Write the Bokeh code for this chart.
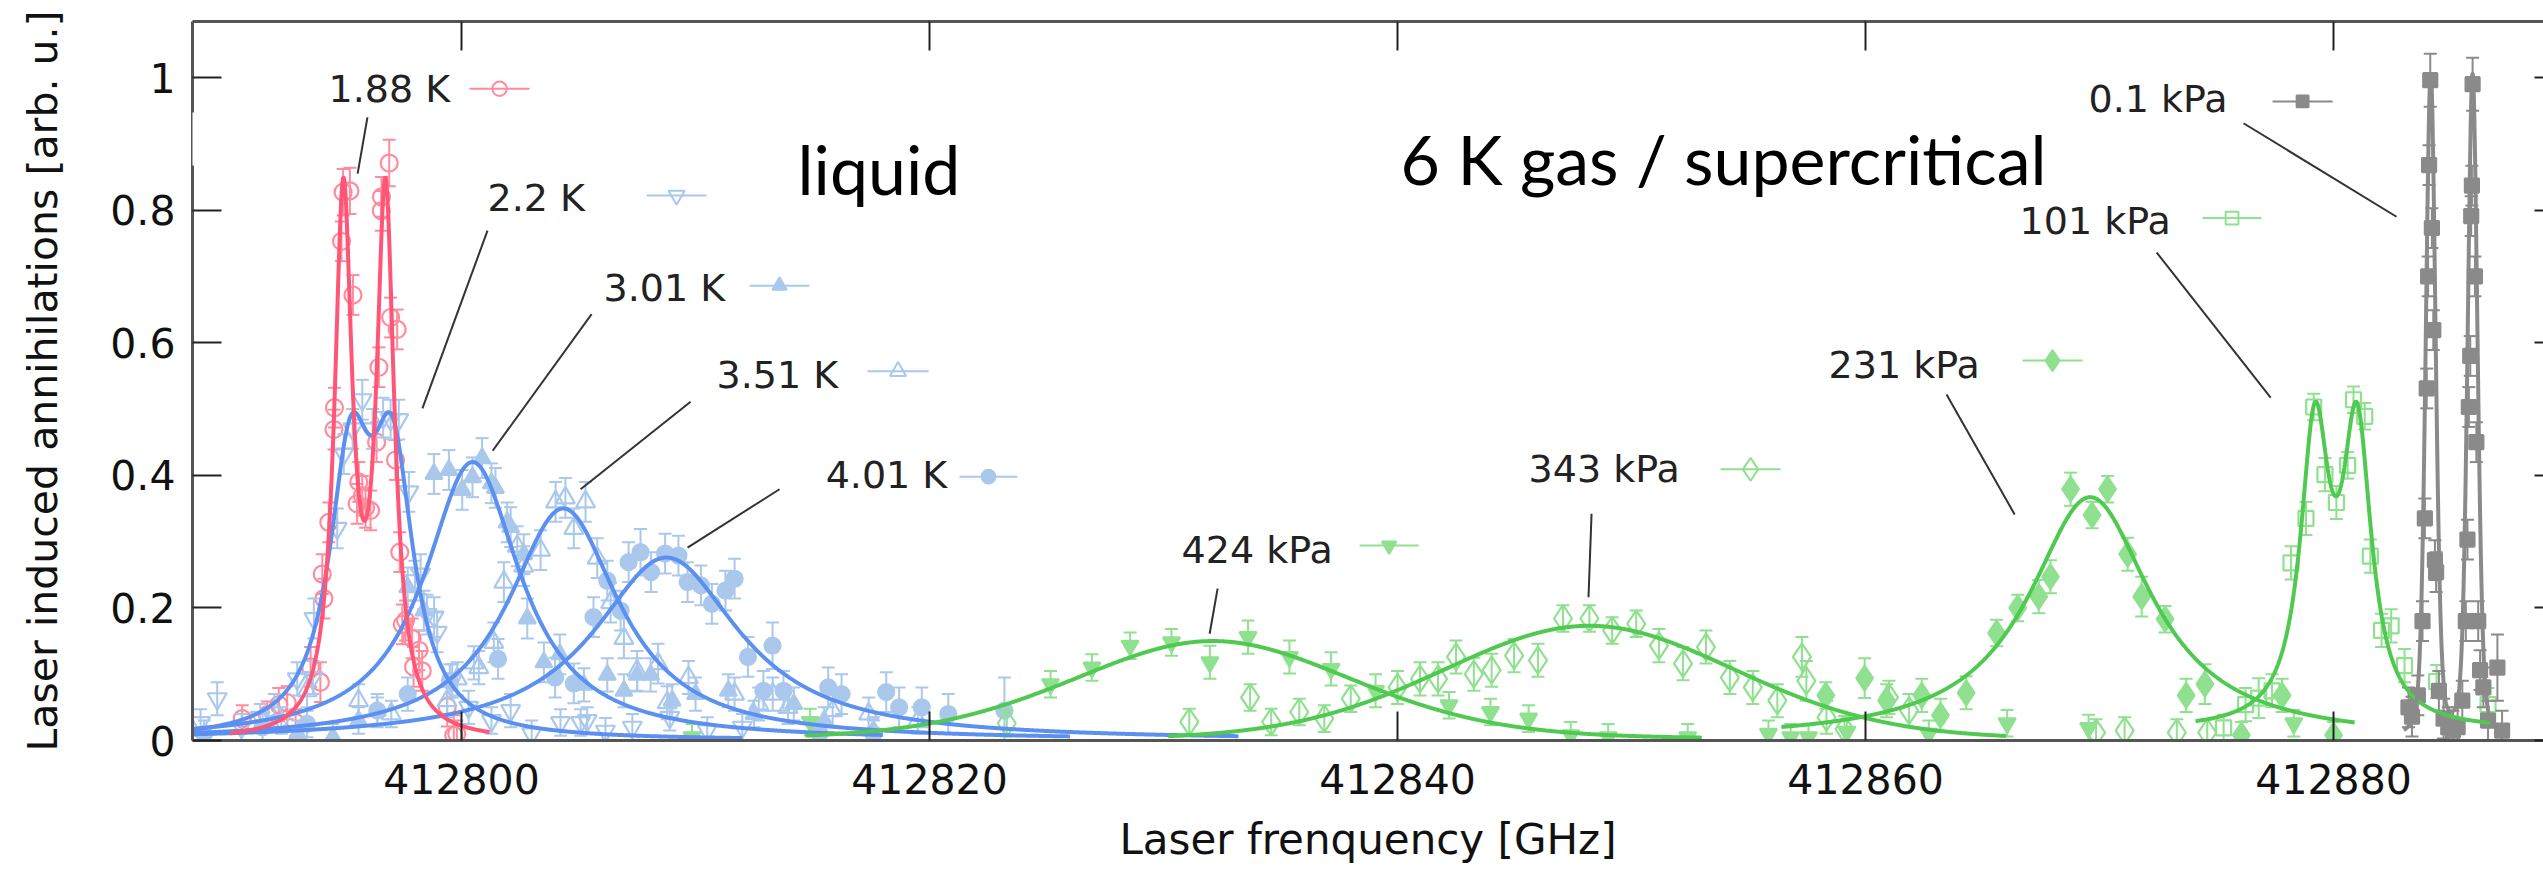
import numpy as np
from bokeh.plotting import figure
from bokeh.models import LinearAxis, Range1d, FixedTicker, BoxAnnotation, Label
from bokeh.embed import file_html
from bokeh.resources import INLINE

# ---------------- data ----------------
X_TICKS = [412800, 412820, 412840, 412860, 412880]
Y_TICKS = [0, 0.2, 0.4, 0.6, 0.8, 1]
X_TICK_LABELS = ["412800", "412820", "412840", "412860", "412880"]
Y_TICK_LABELS = ["0", "0.2", "0.4", "0.6", "0.8", "1"]
X_LABEL = "Laser frenquency [GHz]"
Y_LABEL = "Laser induced annihilations [arb. u.]"

SERIES_NAMES = ["1.88 K", "2.2 K", "3.01 K", "3.51 K", "4.01 K",
                "424 kPa", "343 kPa", "231 kPa", "101 kPa", "0.1 kPa"]

# measured points: (frequency GHz, signal, error)
PTS_188K = [
    (412790.63, .033, .02), (412791.70, .039, .02), (412792.19, .054, .025), (412792.55, .057, .025),
    (412792.91, .027, .02), (412793.55, .111, .03), (412793.97, .088, .03), (412794.12, .214, .03),
    (412794.05, .251, .03), (412794.33, .329, .03), (412794.55, .469, .03), (412794.57, .502, .03),
    (412794.87, .753, .03), (412794.94, .827, .035), (412795.23, .829, .035), (412795.36, .672, .03),
    (412795.61, .390, .03), (412795.54, .357, .03), (412795.76, .369, .03), (412795.90, .351, .03),
    (412796.11, .347, .03), (412796.37, .450, .03), (412796.47, .563, .03), (412796.57, .799, .03),
    (412796.58, .820, .03), (412796.91, .871, .035), (412796.97, .638, .03), (412797.25, .620, .03),
    (412797.18, .423, .03), (412797.36, .284, .03), (412797.47, .175, .03), (412797.61, .181, .03),
    (412797.89, .154, .03), (412798.18, .136, .03), (412797.95, .111, .03), (412798.32, .105, .03),
    (412799.39, .051, .03), (412799.67, .008, .03), (412799.80, .010, .02),
]
PTS_22K = [
    (412788.85, .027, .02), (412789.56, .063, .025), (412790.60, .020, .02), (412791.40, .035, .02),
    (412792.30, .030, .02), (412792.98, .093, .025), (412793.65, .095, .025), (412793.69, .184, .03),
    (412794.69, .320, .03), (412794.97, .432, .03), (412795.35, .470, .03), (412795.76, .514, .03),
    (412796.20, .470, .03), (412796.65, .487, .03), (412796.97, .484, .03), (412797.32, .484, .03),
    (412797.75, .375, .03), (412798.01, .241, .03), (412798.25, .251, .03), (412798.53, .190, .03),
    (412798.83, .186, .03), (412798.96, .163, .03), (412799.60, .090, .025), (412800.30, .050, .025),
    (412801.28, .030, .02), (412802.10, .045, .025), (412803.00, .010, .02), (412804.23, .027, .02),
    (412805.09, .027, .02), (412805.37, .030, .02), (412806.15, .014, .02), (412807.30, .020, .02),
    (412808.90, .035, .02), (412810.50, .015, .02), (412812.00, .020, .02),
]
PTS_301K = [
    (412793.00, .010, .02), (412794.50, .005, .02), (412795.60, .030, .02), (412796.40, .045, .02),
    (412797.70, .231, .03), (412798.39, .196, .03), (412798.82, .402, .03), (412799.46, .408, .03),
    (412800.03, .378, .03), (412800.47, .397, .03), (412800.88, .426, .03), (412801.28, .388, .03),
    (412801.45, .381, .03), (412801.95, .329, .03), (412802.10, .322, .03), (412802.66, .281, .03),
    (412802.81, .184, .03), (412803.52, .118, .03), (412804.20, .130, .03), (412805.23, .084, .025),
    (412806.23, .099, .025), (412806.94, .075, .025), (412807.51, .099, .025), (412808.08, .099, .025),
    (412809.00, .060, .025), (412810.00, .070, .025), (412811.40, .075, .025), (412812.50, .040, .02),
    (412814.20, .055, .025), (412815.50, .030, .02), (412817.60, .015, .02),
]
PTS_351K = [
    (412792.00, .045, .025), (412793.40, .075, .025), (412795.60, .060, .025), (412797.00, .040, .02),
    (412799.38, .060, .025), (412799.82, .093, .025), (412800.53, .117, .025), (412800.74, .110, .025),
    (412801.38, .148, .03), (412801.81, .239, .03), (412802.38, .293, .03), (412802.66, .263, .03),
    (412803.38, .287, .03), (412804.02, .360, .03), (412804.44, .366, .03), (412804.80, .320, .03),
    (412805.30, .360, .03), (412805.80, .275, .03), (412806.37, .208, .03), (412806.94, .154, .03),
    (412807.50, .105, .03), (412808.40, .116, .03), (412808.79, .057, .025), (412809.70, .095, .025),
    (412811.67, .070, .025), (412812.70, .055, .025), (412813.30, .070, .025), (412813.95, .050, .025),
    (412815.86, .045, .025), (412817.40, .040, .025), (412819.50, .030, .02),
]
PTS_401K = [
    (412789.00, .010, .02), (412791.50, .020, .02), (412793.40, .025, .02), (412796.40, .045, .025),
    (412797.70, .070, .025), (412799.50, .090, .025), (412801.56, .123, .03), (412804.00, .095, .03),
    (412804.80, .086, .03), (412805.64, .186, .03), (412806.23, .241, .03), (412806.80, .196, .03),
    (412807.14, .269, .03), (412807.65, .284, .035), (412808.10, .254, .03), (412808.70, .282, .03),
    (412809.27, .279, .03), (412809.66, .239, .03), (412810.23, .234, .03), (412810.70, .206, .03),
    (412811.28, .226, .03), (412811.67, .244, .03), (412812.24, .126, .03), (412812.90, .075, .03),
    (412813.29, .143, .035), (412813.76, .075, .03), (412815.30, .010, .02), (412815.67, .080, .03),
    (412816.24, .070, .03), (412817.60, .010, .02), (412818.15, .073, .03), (412818.70, .050, .03),
    (412819.67, .050, .03), (412820.80, .040, .03), (412823.20, .045, .05),
]
PTS_424KPA = [
    (412809.85, .005, .02), (412814.90, .028, .02), (412825.17, .085, .02), (412826.94, .110, .02),
    (412828.57, .143, .02), (412830.34, .148, .02), (412831.98, .118, .025), (412833.61, .156, .025),
    (412835.38, .126, .025), (412837.16, .108, .025), (412839.06, .075, .025), (412842.20, .053, .02),
    (412843.97, .043, .02), (412845.60, .033, .02), (412847.40, .008, .02), (412849.00, .005, .02),
    (412852.40, .005, .02), (412855.85, .010, .02), (412856.80, .005, .02), (412857.56, .005, .02),
    (412859.20, .013, .02), (412862.70, .010, .02), (412866.05, .026, .02), (412869.53, .019, .02),
    (412878.30, .026, .02),
]
PTS_343KPA = [
    (412823.30, .026, .02), (412831.10, .028, .02), (412833.70, .065, .02), (412834.60, .028, .02),
    (412835.80, .043, .02), (412836.87, .033, .02), (412838.00, .063, .02), (412840.00, .080, .025),
    (412840.96, .093, .025), (412841.73, .093, .025), (412842.50, .126, .025), (412843.26, .100, .025),
    (412844.02, .106, .025), (412844.98, .128, .025), (412846.00, .121, .025), (412847.07, .184, .02),
    (412848.20, .184, .02), (412849.17, .166, .02), (412850.20, .176, .02), (412851.17, .143, .025),
    (412852.20, .116, .025), (412853.18, .141, .025), (412854.20, .095, .025), (412855.18, .080, .025),
    (412856.23, .060, .025), (412857.28, .126, .03), (412857.47, .090, .03), (412858.33, .035, .025),
    (412859.10, .017, .02), (412861.00, .065, .025), (412861.86, .045, .025), (412869.85, .012, .02),
    (412871.07, .015, .02), (412873.30, .012, .02), (412874.60, .012, .02),
]
PTS_231KPA = [
    (412858.30, .068, .02), (412859.96, .094, .03), (412860.90, .060, .025), (412862.40, .068, .025),
    (412863.20, .038, .025), (412864.30, .072, .025), (412865.60, .162, .02), (412866.50, .200, .02),
    (412867.40, .217, .025), (412867.90, .247, .025), (412868.76, .379, .025), (412869.68, .340, .02),
    (412870.34, .379, .02), (412871.20, .281, .025), (412871.80, .217, .03), (412872.80, .183, .02),
    (412873.70, .068, .025), (412874.50, .085, .03), (412876.06, .008, .02), (412877.80, .068, .025),
    (412880.00, .008, .02),
]
PTS_101KPA = [
    (412875.30, .019, .02), (412876.24, .054, .025), (412876.80, .064, .03), (412877.37, .075, .025),
    (412878.18, .268, .025), (412878.82, .335, .025), (412879.15, .503, .02), (412879.63, .401, .025),
    (412880.12, .359, .025), (412880.60, .415, .02), (412880.85, .514, .02), (412881.33, .489, .02),
    (412881.57, .278, .025), (412882.05, .166, .025), (412882.46, .173, .025), (412883.03, .113, .025),
    (412884.40, .089, .025), (412886.60, .054, .025),
]
PTS_01KPA = [
    (412883.20, .050, .03), (412883.35, .036, .03), (412883.60, .068, .03), (412883.80, .180, .03),
    (412883.90, .335, .03), (412883.98, .531, .03), (412884.04, .700, .03), (412884.08, .868, .03),
    (412884.13, .996, .04), (412884.20, .773, .03), (412884.26, .619, .03), (412884.33, .272, .03),
    (412884.38, .254, .03), (412884.50, .075, .03), (412884.70, .033, .03), (412884.90, .020, .03),
    (412885.10, .015, .03), (412885.30, .020, .03), (412885.50, .060, .03), (412885.65, .180, .03),
    (412885.72, .303, .03), (412885.78, .503, .03), (412885.84, .580, .03), (412885.88, .791, .03),
    (412885.91, .837, .03), (412885.94, .990, .04), (412886.04, .700, .03), (412886.10, .450, .03),
    (412886.18, .180, .03), (412886.26, .106, .03), (412886.40, .080, .03), (412886.60, .030, .03),
    (412887.00, .110, .05), (412887.20, .015, .03),
]

# fitted profiles:
# centres [GHz], amplitudes, half width [GHz], Lorentz fraction, baseline, drawn span [GHz]
FIT_CENTERS = [[412794.95, 412796.75], [412795.25, 412797.05], [412800.47], [412804.35], [412808.76],
               [412832.1], [412848.2], [412869.6], [412879.2, 412881.0], [412884.15, 412885.94]]
FIT_AMPS = [[0.80, 0.80], [0.384, 0.384], [0.42], [0.35], [0.276],
            [0.150], [0.173], [0.367], [0.431, 0.431], [1.0, 1.0]]
FIT_HWHM = [0.46, 1.1, 2.5, 2.9, 3.8, 7.2, 7.5, 3.2, 0.75, 0.25]
FIT_LORENTZ_FRACTION = [1.0, 1.0, 1.0, 1.0, 1.0, 0.25, 0.15, 1.0, 1.0, 0.3]
FIT_BASELINE = [0, 0, 0, 0, 0, 0, 0, 0, 0.015, 0]
FIT_SPAN = [(412790.1, 412801.2), (412788.5, 412812.0), (412788.5, 412818.0), (412788.5, 412826.0),
            (412788.5, 412833.2), (412814.7, 412853.0), (412830.2, 412866.0), (412856.4, 412880.9),
            (412874.1, 412886.8), (412883.0, 412887.2)]

ALL_PTS = [PTS_188K, PTS_22K, PTS_301K, PTS_351K, PTS_401K,
           PTS_424KPA, PTS_343KPA, PTS_231KPA, PTS_101KPA, PTS_01KPA]

# ---------------- styles / layout ----------------
RED_LINE, RED_PT = "#ff5577", "#ff8c9c"
BLUE_LINE, BLUE_PT = "#5b8ff0", "#a9c8ec"
GREEN_LINE, GREEN_PT = "#4fc94f", "#8fe08f"
GRAY_LINE, GRAY_PT = "#8a8a8a", "#8a8a8a"

STYLE = [  # line colour, point colour, marker, filled, size
    (RED_LINE, RED_PT, "circle", False, 17),
    (BLUE_LINE, BLUE_PT, "inverted_triangle", False, 19),
    (BLUE_LINE, BLUE_PT, "triangle", True, 17),
    (BLUE_LINE, BLUE_PT, "triangle", False, 19),
    (BLUE_LINE, BLUE_PT, "circle", True, 16),
    (GREEN_LINE, GREEN_PT, "inverted_triangle", True, 17),
    (GREEN_LINE, GREEN_PT, "diamond", False, 27),
    (GREEN_LINE, GREEN_PT, "diamond", True, 25),
    (GREEN_LINE, GREEN_PT, "square", False, 15),
    (GRAY_LINE, GRAY_PT, "square", True, 14),
]

# key entry placement: text x, text middle y, sample x0, x1, sample y, pointer (x0, y0, x1, y1)
KEY_POS = [
    (412794.32, .982, 412800.34, 412802.91, .983, (412795.98, .940, 412795.56, .855)),
    (412801.11, .818, 412807.91, 412810.47, .822, (412801.11, .769, 412798.33, .501)),
    (412806.07, .683, 412812.31, 412814.87, .686, (412805.56, .643, 412801.33, .437)),
    (412810.90, .552, 412817.35, 412819.96, .557, (412809.79, .511, 412805.09, .379)),
    (412815.56, .401, 412821.28, 412823.76, .398, (412813.59, .379, 412809.66, .291)),
    (412830.77, .288, 412838.38, 412840.90, .294, (412832.31, .229, 412831.97, .161)),
    (412845.60, .410, 412853.80, 412856.37, .409, (412848.29, .342, 412848.16, .216)),
    (412858.42, .567, 412866.71, 412869.27, .573, (412863.46, .522, 412866.37, .341)),
    (412866.58, .784, 412874.40, 412876.92, .788, (412872.44, .736, 412877.31, .517)),
    (412869.53, .967, 412877.39, 412879.96, .964, (412876.15, .931, 412882.69, .790)),
]

FONT = "DejaVu Sans"
FRAME_LEFT, FRAME_BOTTOM = 192, 740   # canvas px

p = figure(width=2543, height=885,
           x_range=Range1d(412788.504, 412888.97), y_range=Range1d(0, 1.0845),
           output_backend="svg", toolbar_location=None,
           min_border_left=FRAME_LEFT, min_border_right=0, min_border_top=21,
           min_border_bottom=885 - FRAME_BOTTOM,
           x_axis_label=X_LABEL, y_axis_label=Y_LABEL)
p.outline_line_color = None
p.grid.visible = False
p.background_fill_color = "white"
p.border_fill_color = "white"


def style_axis(ax, ticks, labels, tick_len, show_labels=True):
    ax.ticker = FixedTicker(ticks=ticks)
    ax.major_label_overrides = {t: (l if show_labels else "") for t, l in zip(ticks, labels)}
    ax.major_tick_in = tick_len
    ax.major_tick_out = 0
    ax.minor_tick_line_color = None
    ax.major_tick_line_width = 2
    ax.major_tick_line_color = "#222222"
    ax.axis_line_width = 3
    ax.axis_line_color = "#555555"
    ax.major_label_text_font = FONT
    ax.major_label_text_font_size = "41px" if show_labels else "0px"
    ax.major_label_text_color = "#111111"


style_axis(p.xaxis[0], X_TICKS, X_TICK_LABELS, 29)
style_axis(p.yaxis[0], Y_TICKS, Y_TICK_LABELS, 29)
p.xaxis[0].major_label_standoff = 23
p.yaxis[0].major_label_standoff = 17
for ax, size, stand in ((p.xaxis[0], "42px", 18), (p.yaxis[0], "41px", 40)):
    ax.axis_label_text_font = FONT
    ax.axis_label_text_font_size = size
    ax.axis_label_text_font_style = "normal"
    ax.axis_label_text_color = "#111111"
    ax.axis_label_standoff = stand

top = LinearAxis()
style_axis(top, X_TICKS, X_TICK_LABELS, 29, show_labels=False)
top.major_label_standoff = 0
p.add_layout(top, "above")
right = LinearAxis()
style_axis(right, Y_TICKS, Y_TICK_LABELS, 9, show_labels=False)
right.major_label_standoff = 0
right.axis_line_color = None
p.add_layout(right, "right")


def profile(x, centers, amps, hwhm, eta, base):
    y = np.full_like(x, float(base))
    for c, a in zip(centers, amps):
        d = (x - c) / hwhm
        y += a * (eta / (1.0 + d * d) + (1.0 - eta) * np.exp(-np.log(2.0) * d * d))
    return y


# measured points with error bars
for pts, (lc, pc, mk, filled, sz) in zip(ALL_PTS, STYLE):
    xs = np.array([q[0] for q in pts])
    ys = np.array([q[1] for q in pts])
    es = np.array([q[2] for q in pts])
    p.segment(x0=xs, y0=ys - es, x1=xs, y1=ys + es, line_color=pc, line_width=2)
    p.scatter(x=np.concatenate([xs, xs]), y=np.concatenate([ys - es, ys + es]),
              marker="dash", size=13, line_color=pc, line_width=2)
    p.scatter(x=xs, y=ys, marker=mk, size=sz, line_color=pc, line_width=2.2,
              fill_color=pc if filled else None)

# fitted curves (red drawn last, on top)
order = [1, 2, 3, 4, 5, 6, 7, 8, 9, 0]
for i in order:
    x0, x1 = FIT_SPAN[i]
    xx = np.linspace(x0, x1, 1500)
    yy = profile(xx, FIT_CENTERS[i], FIT_AMPS[i], FIT_HWHM[i], FIT_LORENTZ_FRACTION[i], FIT_BASELINE[i])
    p.line(xx, yy, line_color=STYLE[i][0], line_width=4)

# key entries next to the curves, with pointer lines
for name, (lc, pc, mk, filled, sz), (tx, ty, s0, s1, sy, ptr) in zip(SERIES_NAMES, STYLE, KEY_POS):
    p.add_layout(Label(x=tx, y=ty, text=name, text_font=FONT, text_font_size="38px",
                       text_color="#222222", text_baseline="middle", text_align="left"))
    p.segment(x0=[s0], y0=[sy], x1=[s1], y1=[sy], line_color=pc, line_width=2)
    p.scatter(x=[(s0 + s1) / 2], y=[sy], marker=mk, size=sz * 0.85, line_color=pc, line_width=2,
              fill_color=pc if filled else None)
    p.segment(x0=[ptr[0]], y0=[ptr[1]], x1=[ptr[2]], y1=[ptr[3]], line_color="#333333", line_width=2)

# phase annotations
p.add_layout(Label(x=412814.36, y=0.863, text="liquid", text_font="Lato", text_font_size="68px",
                   text_color="#000000", text_baseline="middle"))
p.add_layout(Label(x=412840.13, y=0.878, text="6 K gas / supercritical", text_font="Lato",
                   text_font_size="68px", text_color="#000000", text_baseline="middle"))

# white patch of the original slide that interrupts the left frame line
p.add_layout(BoxAnnotation(left=-200, right=108, bottom=575, top=628,
                           left_units="screen", right_units="screen",
                           bottom_units="screen", top_units="screen",
                           fill_color="white", fill_alpha=1.0, line_color=None, level="overlay"))

open("out.html", "w").write(file_html(p, INLINE))
